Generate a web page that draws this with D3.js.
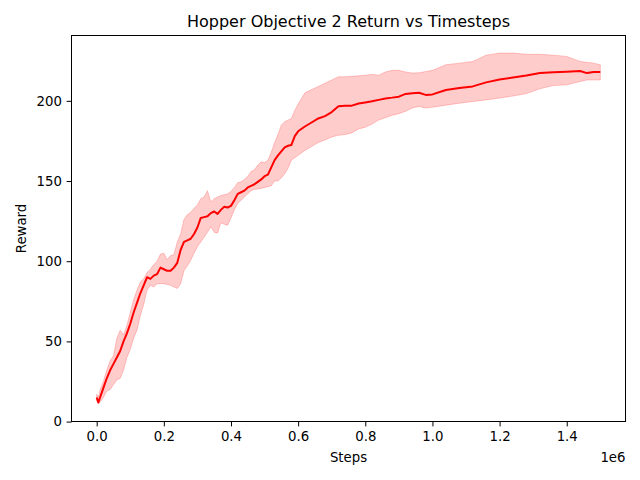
<!DOCTYPE html>
<html>
<head>
<meta charset="utf-8">
<script src="https://cdnjs.cloudflare.com/ajax/libs/d3/7.8.5/d3.min.js"></script>
<style>
  body { margin: 0; background: #fff; }
  svg text { font-family: "DejaVu Sans", sans-serif; fill: #000; }
</style>
</head>
<body>
<div id="chart"></div>
<script>
// steps (in thousands)
const steps = [0, 5, 10, 20, 30, 40, 50, 60, 70, 80, 90, 100, 110, 120, 130, 140, 150, 160, 170, 180, 190,
  200, 210, 220, 230, 240, 250, 260, 270, 280, 290, 300, 310, 320, 330, 340, 350, 360, 370, 380, 390,
  400, 410, 420, 430, 440, 450, 460, 470, 480, 490, 500, 510, 520, 530, 540, 550, 560, 570, 580, 590,
  600, 620, 640, 660, 680, 700, 720, 740, 760, 780, 800, 820, 840, 860, 880, 900, 920, 940, 960, 980,
  1000, 1040, 1080, 1120, 1160, 1200, 1240, 1280, 1320, 1360, 1400, 1440, 1460, 1480, 1500];

const meanReward = [15, 12, 15, 21, 27, 32, 36, 40, 44, 50, 55, 61, 68, 74, 80, 85, 90, 89, 91, 92, 96,
  95, 94, 94, 96, 99, 107, 112, 113, 114, 117, 121, 127, 127.5, 128, 130, 131, 129.5, 132, 134, 133.5,
  134.5, 138, 142, 143, 144, 146, 147, 148, 149.5, 151, 153, 154, 158.5, 163, 166, 168.5, 171, 172, 172.5, 178,
  181, 184, 186.5, 189, 190.5, 193, 196.7, 197, 197, 198.3, 199, 199.7, 200.6, 201.5, 202, 202.6, 204.3, 204.8, 205, 203.7,
  204, 206.8, 208, 209, 211.5, 213.3, 214.5, 215.8, 217.3, 217.9, 218.2, 218.6, 217.3, 218, 218];

const upperReward = [17, 15, 20, 25, 32, 38, 41, 52, 57, 54, 60, 68, 76, 82, 87, 89, 93, 95, 98, 100, 104.5,
  105, 101, 103.5, 104, 112, 117, 126, 129, 130.5, 133, 135, 139, 140, 144, 137, 139, 140, 141, 141.5, 142,
  143.5, 146, 149, 149.5, 151, 153, 156, 157, 160, 162, 161.5, 163, 168, 174, 179, 185, 187, 188, 189, 194,
  198, 205, 207, 209, 211, 213, 215, 215, 215.3, 215.6, 216, 216.5, 216, 218, 219, 219, 218, 217.3, 217.5, 218.3,
  219, 222.5, 223.5, 224.5, 228.5, 229.8, 229.8, 229, 229, 228.5, 227.7, 224.6, 224, 223.5, 222.5];

const lowerReward = [13, 11, 12, 15, 19, 20, 23, 26, 27, 32, 40, 45, 52, 57, 66, 73, 82, 85, 84, 86, 86,
  86, 85.5, 85, 84, 83, 86, 94, 97, 100.6, 105, 109, 112, 115, 118, 121.5, 118, 117.5, 124, 123, 122.5,
  127, 132, 136, 138, 140, 142, 144, 144.8, 145, 145.4, 146, 146.5, 147, 150, 150, 152, 154.5, 158, 163, 164.5,
  166, 169, 171.5, 174, 175.6, 177.5, 178.5, 179, 180, 182.5, 183.5, 185.5, 188, 189.5, 191, 192, 193.5, 195.5, 196.5, 195.5,
  196, 197.3, 198.5, 199.6, 200.6, 201.7, 203, 204.5, 207.5, 209.5, 210, 212, 213, 213, 213];

const xTicks = [0, 200000, 400000, 600000, 800000, 1000000, 1200000, 1400000];
const yTicks = [0, 50, 100, 150, 200];

const width = 640, height = 480;
const margin = { left: 71.5, right: 14.5, top: 35.5, bottom: 58.5 };

const data = steps.map((s, i) => ({
  step: s * 1000,
  mean: meanReward[i],
  lo: lowerReward[i],
  hi: upperReward[i]
}));

const svg = d3.select("#chart").append("svg")
  .attr("width", width)
  .attr("height", height);

// matplotlib style 5% margins
const xMin = d3.min(data, d => d.step), xMax = d3.max(data, d => d.step);
const yMin = d3.min(data, d => d.lo), yMax = d3.max(data, d => d.hi);
const xPad = (xMax - xMin) * 0.05, yPad = (yMax - yMin) * 0.05;

const x = d3.scaleLinear()
  .domain([xMin - xPad, xMax + xPad])
  .range([margin.left, width - margin.right]);

const y = d3.scaleLinear()
  .domain([yMin - yPad, yMax + yPad])
  .range([height - margin.bottom, margin.top]);

const plot = svg.append("g");

plot.append("path")
  .datum(data)
  .attr("d", d3.area().x(d => x(d.step)).y0(d => y(d.lo)).y1(d => y(d.hi)))
  .attr("fill", "red")
  .attr("fill-opacity", 0.2)
  .attr("stroke", "red")
  .attr("stroke-opacity", 0.2)
  .attr("stroke-width", 1);

plot.append("path")
  .datum(data)
  .attr("d", d3.line().x(d => x(d.step)).y(d => y(d.mean)))
  .attr("fill", "none")
  .attr("stroke", "red")
  .attr("stroke-width", 2)
  .attr("stroke-linejoin", "round");

// axes
const xAxis = d3.axisBottom(x)
  .tickValues(xTicks)
  .tickFormat(d => (d / 1e6).toFixed(1))
  .tickSize(4.9)
  .tickPadding(4.7);

const yAxis = d3.axisLeft(y)
  .tickValues(yTicks)
  .tickFormat(d3.format("d"))
  .tickSize(4.9)
  .tickPadding(4.7);

const gx = svg.append("g")
  .attr("transform", `translate(0,${height - margin.bottom})`)
  .call(xAxis);
const gy = svg.append("g")
  .attr("transform", `translate(${margin.left},0)`)
  .call(yAxis);

[gx, gy].forEach(g => {
  g.select(".domain").remove();
  g.selectAll("line").attr("stroke", "#000").attr("stroke-width", 1);
  g.selectAll("text").style("font-size", "13.3px").attr("fill", "#000");
});

// frame
svg.append("rect")
  .attr("x", margin.left)
  .attr("y", margin.top)
  .attr("width", width - margin.left - margin.right)
  .attr("height", height - margin.top - margin.bottom)
  .attr("fill", "none")
  .attr("stroke", "#000")
  .attr("stroke-width", 1);

const cx = (margin.left + width - margin.right) / 2;

svg.append("text")
  .attr("x", cx)
  .attr("y", 27)
  .attr("text-anchor", "middle")
  .style("font-size", "16px")
  .text("Hopper Objective 2 Return vs Timesteps");

svg.append("text")
  .attr("x", cx)
  .attr("y", 461.5)
  .attr("text-anchor", "middle")
  .style("font-size", "13.3px")
  .text("Steps");

svg.append("text")
  .attr("x", width - margin.right)
  .attr("y", 461.5)
  .attr("text-anchor", "end")
  .style("font-size", "13.3px")
  .text("1e6");

svg.append("text")
  .attr("transform", `translate(25.5,${(margin.top + height - margin.bottom) / 2}) rotate(-90)`)
  .attr("text-anchor", "middle")
  .style("font-size", "13.3px")
  .text("Reward");
</script>
</body>
</html>
